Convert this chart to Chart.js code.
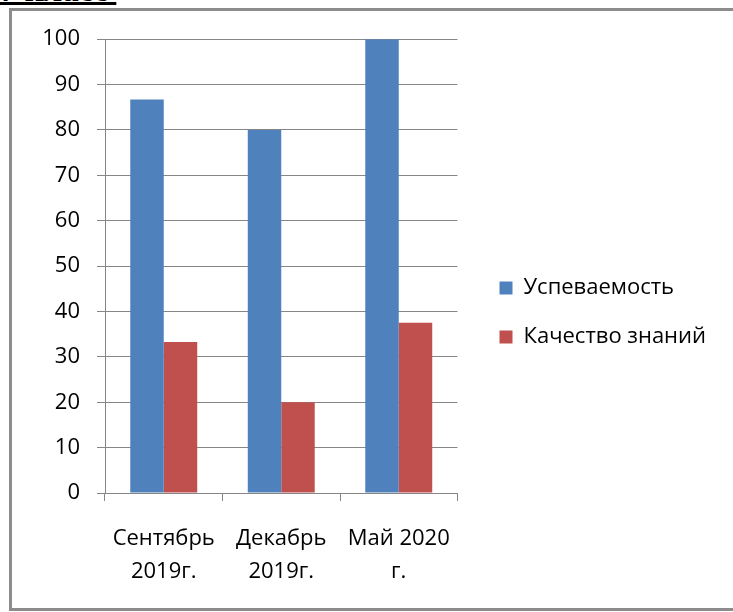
<!DOCTYPE html>
<html>
<head>
<meta charset="utf-8">
<script src="https://cdn.jsdelivr.net/npm/chart.js@4"></script>
<style>
    body { margin: 0; background: #fff; overflow: hidden; }
    #heading {
        position: absolute; left: 0; top: -26px;
        font: bold 33px/33px "Liberation Serif", serif;
        text-decoration: underline; text-decoration-thickness: 3px; text-underline-offset: 1px;
        white-space: pre;
    }
    #frame {
        position: absolute; left: 9px; top: 8px; width: 760px; height: 597px;
        border: 3px solid #8c8c8c;
    }
    #box { position: absolute; left: 12px; top: 9px; width: 721px; height: 599px; }
</style>
</head>
<body>
<div id="heading">7 класс </div>
<div id="frame"></div>
<div id="box"><canvas id="chart"></canvas></div>
<script>
const categories = [['Сентябрь', '2019г.'], ['Декабрь', '2019г.'], ['Май 2020', 'г.']];
const successRate = [86.7, 80, 100];
const qualityRate = [33.3, 20, 37.5];
const yTicks = [0, 10, 20, 30, 40, 50, 60, 70, 80, 90, 100];

const gridColor = '#868686';
const font = { family: '"Open Sans", sans-serif', size: 22 };

Chart.defaults.color = '#000';

document.addEventListener('DOMContentLoaded', function () {
    const ctx = document.getElementById('chart').getContext('2d');
    new Chart(ctx, {
        type: 'bar',
        data: {
            labels: categories,
            datasets: [{
                label: 'Успеваемость',
                data: successRate,
                backgroundColor: '#4f81bd'
            }, {
                label: 'Качество знаний',
                data: qualityRate,
                backgroundColor: '#c0504d'
            }]
        },
        options: {
            animation: false,
            responsive: true,
            maintainAspectRatio: false,
            layout: { padding: { top: 8, right: 17, left: 0, bottom: 0 } },
            datasets: { bar: { categoryPercentage: 0.57, barPercentage: 1 } },
            plugins: {
                tooltip: { enabled: false },
                legend: {
                    position: 'right',
                    maxWidth: 320,
                    labels: { font: font, boxWidth: 13, boxHeight: 13, padding: 27 }
                }
            },
            scales: {
                x: {
                    afterFit: s => { s.height = 115; },
                    grid: { drawOnChartArea: false, drawTicks: true, tickLength: 8, color: gridColor, offset: true },
                    border: { color: gridColor },
                    ticks: { font: { ...font, lineHeight: 1.5 }, padding: 21, maxRotation: 0, autoSkip: false }
                },
                xTop: {
                    type: 'linear', position: 'top',
                    afterFit: s => { s.height = 18; },
                    grid: { display: false }, border: { display: false }, ticks: { display: false }
                },
                y: {
                    min: 0, max: 100,
                    afterFit: s => { s.width = 93; },
                    afterBuildTicks: s => { s.ticks = yTicks.map(v => ({ value: v })); },
                    grid: { color: gridColor, tickLength: 8 },
                    border: { color: gridColor },
                    ticks: { font: font, padding: 17 }
                },
                yRight: {
                    type: 'linear', position: 'right',
                    afterFit: s => { s.width = 15; },
                    grid: { display: false }, border: { display: false }, ticks: { display: false }
                }
            }
        }
    });
});
</script>
</body>
</html>
